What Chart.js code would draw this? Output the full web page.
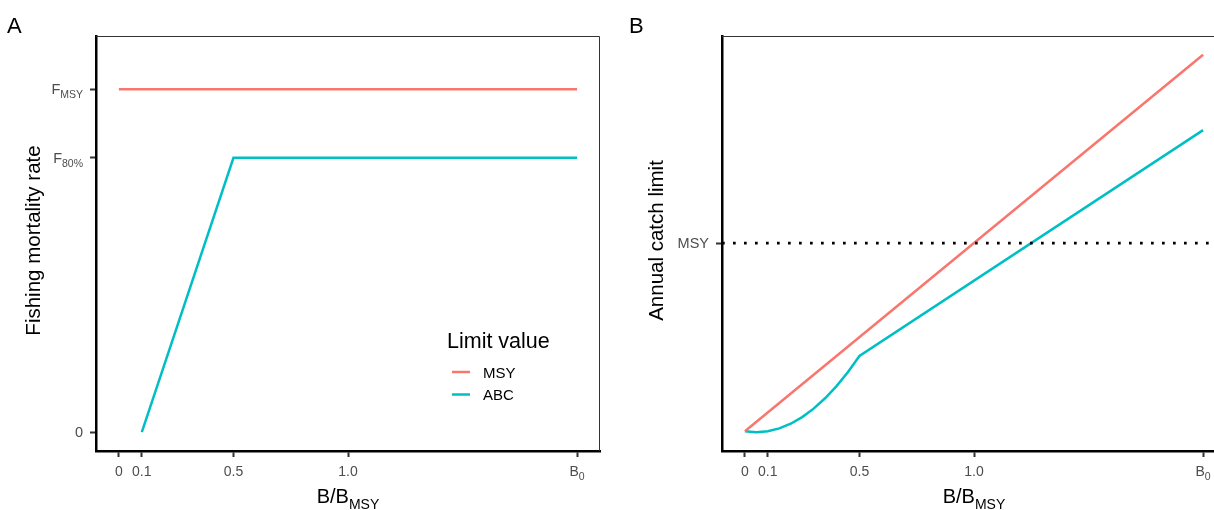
<!DOCTYPE html>
<html>
<head>
<meta charset="utf-8">
<script src="https://cdn.jsdelivr.net/npm/chart.js@4"></script>
<style>
    html, body { margin: 0; padding: 0; background: #fff; overflow: hidden; width: 1214px; height: 510px; }
    #wrapA { position: absolute; left: 0; top: 0; }
    #wrapB { position: absolute; left: 620px; top: 0; }
</style>
</head>
<body>
<div id="wrapA"><canvas id="chartA" width="610" height="510"></canvas></div>
<div id="wrapB"><canvas id="chartB" width="620" height="510"></canvas></div>
<script>
// Harvest control rules: A = fishing mortality, B = annual catch limit

const colMSY = '#F8766D';
const colABC = '#00BFC4';

// x axis (B/BMSY), B0 = 2
const xTicks = [0, 0.1, 0.5, 1.0, 2.0];
const xTickLabels = [['0'], ['0.1'], ['0.5'], ['1.0'], ['B', '0']];

// panel A
const fTicks = [0, 0.8, 1];
const fTickLabels = [['0'], ['F', '80%'], ['F', 'MSY']];
const msyB = [0, 2];
const msyF = [1, 1];
const abcB = [0.1, 0.5, 2];
const abcF = [0, 0.8, 0.8];

// panel B
const catchTicks = [1];
const catchTickLabels = [['MSY']];
const msyCatchB = [0, 2];
const msyCatch = [0, 2];
const abcCatchB = [0, 0.05, 0.1, 0.15, 0.2, 0.25, 0.3, 0.35, 0.4, 0.45, 0.5, 2];
const abcCatch = [0, -0.005, 0, 0.015, 0.04, 0.075, 0.12, 0.175, 0.24, 0.315, 0.4, 1.6];
const msyLevelB = [-0.1, 2.1];
const msyLevel = [1, 1];

const legendTitle = 'Limit value';
const legendItems = [['MSY', colMSY], ['ABC', colABC]];

const FONT = "'Liberation Sans', Arial, sans-serif";

function pts(xs, ys) {
    return xs.map((x, i) => ({ x: x, y: ys[i] }));
}

// text with an optional subscript part
function drawRich(ctx, parts, x, y, align, size, subSize, color) {
    ctx.fillStyle = color;
    ctx.textBaseline = 'alphabetic';
    ctx.textAlign = 'left';
    ctx.font = size + 'px ' + FONT;
    const w1 = ctx.measureText(parts[0]).width;
    let w2 = 0;
    if (parts[1]) {
        ctx.font = subSize + 'px ' + FONT;
        w2 = ctx.measureText(parts[1]).width;
    }
    const total = w1 + w2;
    let x0 = x;
    if (align === 'center') x0 = x - total / 2;
    if (align === 'right') x0 = x - total;
    ctx.font = size + 'px ' + FONT;
    ctx.fillText(parts[0], x0, y);
    if (parts[1]) {
        ctx.font = subSize + 'px ' + FONT;
        ctx.fillText(parts[1], x0 + w1, y + size * 0.28);
    }
}

function decorations(opts) {
    return {
        id: 'decor',
        afterDraw(chart) {
            const ctx = chart.ctx;
            const a = chart.chartArea;
            const xs = chart.scales.x;
            const ys = chart.scales.y;
            ctx.save();

            // thin top/right frame
            ctx.strokeStyle = '#333';
            ctx.lineWidth = 1;
            ctx.beginPath();
            ctx.moveTo(a.left, a.top + 0.5);
            ctx.lineTo(a.right - 0.5, a.top + 0.5);
            ctx.lineTo(a.right - 0.5, a.bottom);
            ctx.stroke();

            // tick labels
            xTicks.forEach((v, i) => {
                drawRich(ctx, xTickLabels[i], xs.getPixelForValue(v), a.bottom + 25, 'center', 14, 10.5, '#4D4D4D');
            });
            opts.yTicks.forEach((v, i) => {
                drawRich(ctx, opts.yTickLabels[i], a.left - 13, ys.getPixelForValue(v) + 5, 'right', 14.5, 10.5, '#4D4D4D');
            });

            // axis titles
            drawRich(ctx, ['B/B', 'MSY'], (a.left + a.right) / 2, 503, 'center', 20, 14, '#000');
            ctx.save();
            ctx.translate(opts.yTitleX, (a.top + a.bottom) / 2 - 3);
            ctx.rotate(-Math.PI / 2);
            ctx.font = '20.5px ' + FONT;
            ctx.fillStyle = '#000';
            ctx.textAlign = 'center';
            ctx.textBaseline = 'alphabetic';
            ctx.fillText(opts.yTitle, 0, 0);
            ctx.restore();

            // panel tag
            ctx.font = '22px ' + FONT;
            ctx.fillStyle = '#000';
            ctx.textAlign = 'left';
            ctx.fillText(opts.tag, opts.tagX, 33);

            // legend
            if (opts.legend) {
                ctx.font = '21.5px ' + FONT;
                ctx.fillText(legendTitle, 447, 348);
                legendItems.forEach((it, i) => {
                    const y = 372 + i * 22.5;
                    ctx.strokeStyle = it[1];
                    ctx.lineWidth = 2.5;
                    ctx.beginPath();
                    ctx.moveTo(452, y);
                    ctx.lineTo(470, y);
                    ctx.stroke();
                    ctx.font = '15px ' + FONT;
                    ctx.fillStyle = '#000';
                    ctx.fillText(it[0], 483, y + 5.5);
                });
            }
            ctx.restore();
        }
    };
}

function scaleOpts(min, max, ticks, size, isX) {
    return {
        type: 'linear',
        min: min,
        max: max,
        afterBuildTicks: s => { s.ticks = ticks.map(v => ({ value: v })); },
        afterFit: s => { if (isX) s.height = size; else s.width = size; },
        ticks: { display: false },
        grid: { display: true, drawOnChartArea: false, drawTicks: true, tickLength: 6, tickWidth: 2, tickColor: '#333' },
        border: { display: true, color: '#000', width: 2.5 }
    };
}

function lineSet(data, color, extra) {
    return Object.assign({
        data: data,
        borderColor: color,
        borderWidth: 2.5,
        pointRadius: 0,
        fill: false,
        tension: 0
    }, extra || {});
}

new Chart(document.getElementById('chartA'), {
    type: 'line',
    data: {
        datasets: [
            lineSet(pts(msyB, msyF), colMSY),
            lineSet(pts(abcB, abcF), colABC)
        ]
    },
    options: {
        responsive: false,
        animation: false,
        layout: { padding: { top: 36, right: 10, left: 0, bottom: 0 } },
        plugins: { legend: { display: false }, tooltip: { enabled: false } },
        scales: {
            x: scaleOpts(-0.1, 2.1, xTicks, 59, true),
            y: scaleOpts(-0.055, 1.155, fTicks, 96, false)
        }
    },
    plugins: [decorations({ yTicks: fTicks, yTickLabels: fTickLabels, yTitle: 'Fishing mortality rate', yTitleX: 40, tag: 'A', tagX: 7, legend: true })]
});

new Chart(document.getElementById('chartB'), {
    type: 'line',
    data: {
        datasets: [
            lineSet(pts(msyLevelB, msyLevel), '#000', { borderWidth: 2.7, borderDash: [2.7, 8.3] }),
            lineSet(pts(msyCatchB, msyCatch), colMSY),
            lineSet(pts(abcCatchB, abcCatch), colABC)
        ]
    },
    options: {
        responsive: false,
        animation: false,
        layout: { padding: { top: 36, right: 14, left: 0, bottom: 0 } },
        plugins: { legend: { display: false }, tooltip: { enabled: false } },
        scales: {
            x: scaleOpts(-0.1, 2.1, xTicks, 59, true),
            y: scaleOpts(-0.105, 2.1, catchTicks, 102, false)
        }
    },
    plugins: [decorations({ yTicks: catchTicks, yTickLabels: catchTickLabels, yTitle: 'Annual catch limit', yTitleX: 43, tag: 'B', tagX: 9, legend: false })]
});
</script>
</body>
</html>
